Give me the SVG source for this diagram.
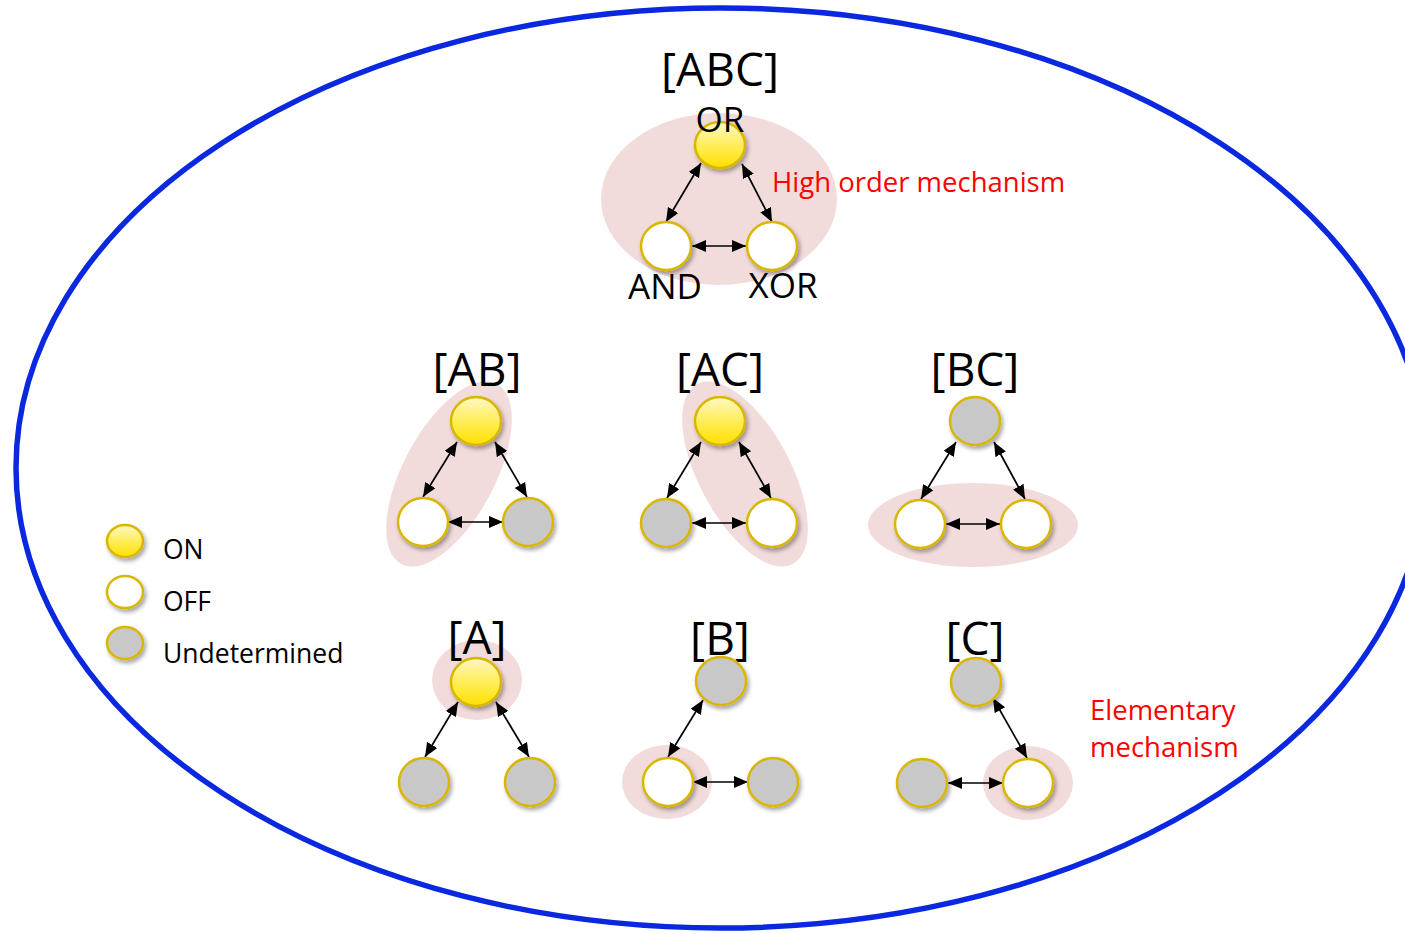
<svg xmlns="http://www.w3.org/2000/svg" width="1405" height="934" viewBox="0 0 1405 934">
  <style>
    .lbl { font-family: "Open Sans", "Liberation Sans", sans-serif; fill: #000; }
    .big { font-size: 46px; text-anchor: middle; }
    .gate { font-size: 35px; text-anchor: middle; }
    .note { font-family: "Open Sans", "Liberation Sans", sans-serif; font-size: 27.5px; fill: #ff0000; }
    .leg { font-size: 26.5px; }
    .hl { fill: #f2dcdb; }
    .node { stroke: #d9b600; stroke-width: 2.5; filter: url(#shadow); }
    .on { fill: url(#yellow); }
    .off { fill: #ffffff; }
    .und { fill: #c8c8c8; }
    .link { stroke: #000; stroke-width: 1.7; fill: none; marker-start: url(#head); marker-end: url(#head); }
  </style>
  <defs>
    <linearGradient id="yellow" x1="0" y1="0" x2="0" y2="1">
      <stop offset="0" stop-color="#fff8c4"/>
      <stop offset="0.55" stop-color="#ffec50"/>
      <stop offset="1" stop-color="#ffe000"/>
    </linearGradient>
    <filter id="shadow" x="-30%" y="-30%" width="170%" height="170%">
      <feDropShadow dx="2" dy="3" stdDeviation="2.2" flood-color="#000" flood-opacity="0.35"/>
    </filter>
    <marker id="head" markerUnits="userSpaceOnUse" markerWidth="15" markerHeight="13" refX="14" refY="6" orient="auto-start-reverse">
      <path d="M0,0 L14,6 L0,12 Z" fill="#000"/>
    </marker>
  </defs>

  <rect width="1405" height="934" fill="#ffffff"/>

  <!-- system boundary -->
  <ellipse cx="721" cy="468" rx="705" ry="460" fill="none" stroke="#0a28e0" stroke-width="5.5"/>

  <!-- highlighted mechanisms -->
  <g id="highlights">
    <ellipse class="hl" cx="719" cy="199" rx="118" ry="86"/>
    <ellipse class="hl" cx="449" cy="474" rx="102" ry="46" transform="rotate(-62 449 474)"/>
    <ellipse class="hl" cx="745" cy="474" rx="102" ry="46" transform="rotate(62 745 474)"/>
    <ellipse class="hl" cx="973" cy="525" rx="105" ry="42"/>
    <ellipse class="hl" cx="477" cy="680" rx="45" ry="40"/>
    <ellipse class="hl" cx="667" cy="782" rx="45" ry="37"/>
    <ellipse class="hl" cx="1028" cy="783" rx="45" ry="37"/>
  </g>

  <!-- connectors -->
  <g id="connectors">
    <line class="link" x1="701" y1="163" x2="666" y2="222"/>
    <line class="link" x1="742" y1="164" x2="772" y2="222"/>
    <line class="link" x1="692" y1="246" x2="746" y2="246"/>

    <line class="link" x1="457" y1="442" x2="423" y2="497"/>
    <line class="link" x1="495" y1="442" x2="527" y2="497"/>
    <line class="link" x1="448" y1="522" x2="503" y2="522"/>

    <line class="link" x1="701" y1="442" x2="667" y2="498"/>
    <line class="link" x1="739" y1="442" x2="771" y2="498"/>
    <line class="link" x1="692" y1="523" x2="746" y2="523"/>

    <line class="link" x1="956" y1="442" x2="921" y2="499"/>
    <line class="link" x1="994" y1="442" x2="1025" y2="499"/>
    <line class="link" x1="946" y1="524" x2="1000" y2="524"/>

    <line class="link" x1="458" y1="702" x2="425" y2="757"/>
    <line class="link" x1="496" y1="702" x2="529" y2="757"/>

    <line class="link" x1="703" y1="700" x2="668" y2="757"/>
    <line class="link" x1="693" y1="782" x2="748" y2="782"/>

    <line class="link" x1="993" y1="698" x2="1027" y2="758"/>
    <line class="link" x1="948" y1="783" x2="1003" y2="783"/>
  </g>

  <!-- [ABC] -->
  <g id="abc">
    <text class="lbl big" x="720" y="86">[ABC]</text>
    <ellipse class="node on" cx="720" cy="145" rx="25" ry="23"/>
    <ellipse class="node off" cx="666" cy="246" rx="25" ry="24"/>
    <ellipse class="node off" cx="772" cy="246" rx="25" ry="24"/>
    <text class="lbl gate" x="720" y="132">OR</text>
    <text class="lbl gate" x="665" y="299">AND</text>
    <text class="lbl gate" x="783" y="298">XOR</text>
  </g>
  <text id="high-order-label" class="note" x="772" y="192">High order mechanism</text>

  <!-- [AB] -->
  <g id="ab">
    <text class="lbl big" x="477" y="386">[AB]</text>
    <ellipse class="node on" cx="476" cy="421" rx="25" ry="24"/>
    <ellipse class="node off" cx="423" cy="522" rx="25" ry="24"/>
    <ellipse class="node und" cx="528" cy="522" rx="25" ry="24"/>
  </g>

  <!-- [AC] -->
  <g id="ac">
    <text class="lbl big" x="720" y="386">[AC]</text>
    <ellipse class="node on" cx="720" cy="421" rx="25" ry="24"/>
    <ellipse class="node und" cx="666" cy="523" rx="25" ry="24"/>
    <ellipse class="node off" cx="772" cy="523" rx="25" ry="24"/>
  </g>

  <!-- [BC] -->
  <g id="bc">
    <text class="lbl big" x="975" y="386">[BC]</text>
    <ellipse class="node und" cx="975" cy="421" rx="25" ry="24"/>
    <ellipse class="node off" cx="920" cy="524" rx="25" ry="24"/>
    <ellipse class="node off" cx="1026" cy="524" rx="25" ry="24"/>
  </g>

  <!-- [A] -->
  <g id="a">
    <text class="lbl big" x="477" y="654">[A]</text>
    <ellipse class="node on" cx="476" cy="682" rx="25" ry="24"/>
    <ellipse class="node und" cx="424" cy="782" rx="25" ry="24"/>
    <ellipse class="node und" cx="530" cy="782" rx="25" ry="24"/>
  </g>

  <!-- [B] -->
  <g id="b">
    <text class="lbl big" x="720" y="655">[B]</text>
    <ellipse class="node und" cx="721" cy="681" rx="25" ry="24"/>
    <ellipse class="node off" cx="668" cy="782" rx="25" ry="24"/>
    <ellipse class="node und" cx="773" cy="782" rx="25" ry="24"/>
  </g>

  <!-- [C] -->
  <g id="c">
    <text class="lbl big" x="975" y="655">[C]</text>
    <ellipse class="node und" cx="976" cy="682" rx="25" ry="24"/>
    <ellipse class="node und" cx="922" cy="783" rx="25" ry="24"/>
    <ellipse class="node off" cx="1028" cy="783" rx="25" ry="24"/>
  </g>
  <g id="elementary-label" class="note">
    <text x="1090" y="720">Elementary</text>
    <text x="1090" y="757">mechanism</text>
  </g>

  <!-- legend -->
  <g id="legend">
    <ellipse class="node on" cx="125" cy="541" rx="18" ry="16"/>
    <ellipse class="node off" cx="125" cy="592" rx="18" ry="16"/>
    <ellipse class="node und" cx="125" cy="643" rx="18" ry="16"/>
    <text class="lbl leg" x="163" y="559">ON</text>
    <text class="lbl leg" x="163" y="611">OFF</text>
    <text class="lbl leg" x="163" y="663">Undetermined</text>
  </g>
</svg>
